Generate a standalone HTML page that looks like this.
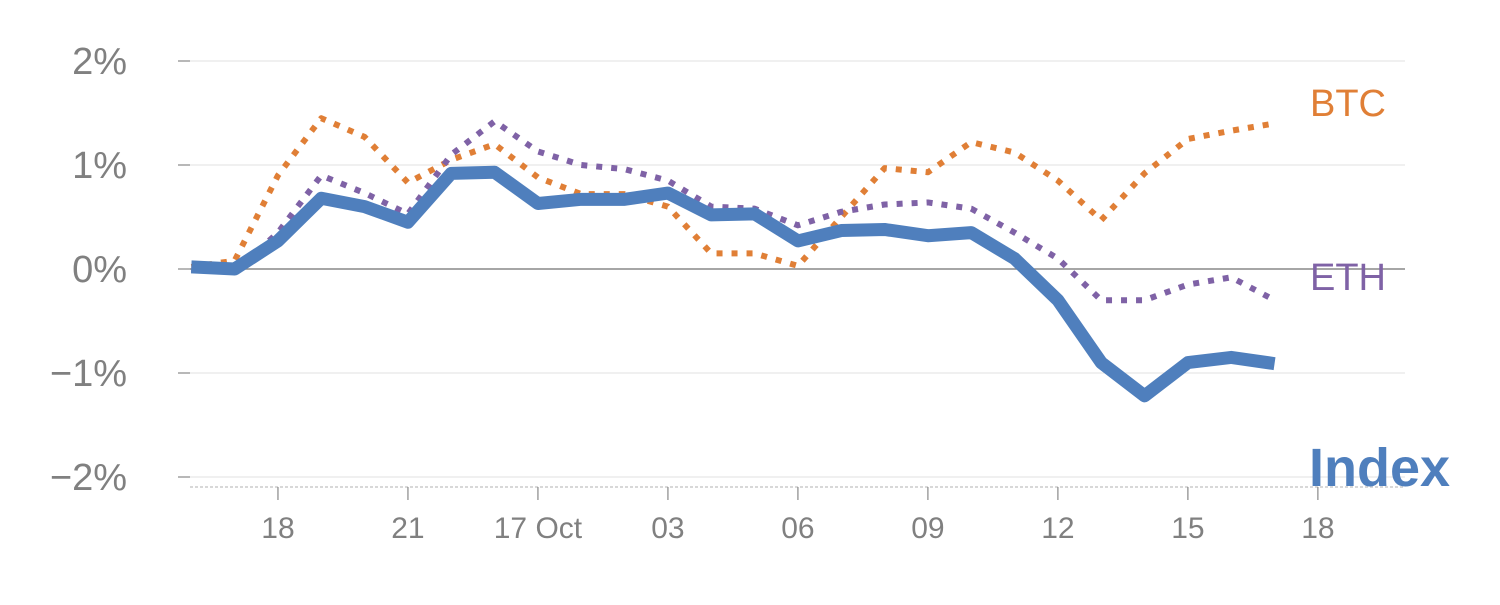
<!DOCTYPE html>
<html><head><meta charset="utf-8"><style>
body{margin:0;background:#fff}
svg text{font-family:"Liberation Sans",Arial,sans-serif}
</style></head><body>
<svg id="chart" width="1500" height="600" xmlns="http://www.w3.org/2000/svg"></svg>
<script>
const xLabels = ["18","21","17 Oct","03","06","09","12","15","18"];
const xLabelIdx = [2,5,8,11,14,17,20,23,26];
const yTicks = [2,1,0,-1,-2];
const indexVals = [0.02,0.0,0.27,0.68,0.6,0.45,0.92,0.93,0.63,0.67,0.67,0.73,0.52,0.53,0.27,0.37,0.38,0.32,0.35,0.1,-0.3,-0.9,-1.22,-0.9,-0.85,-0.91];
const btcVals = [0.02,0.08,0.9,1.45,1.27,0.83,1.05,1.2,0.88,0.72,0.72,0.6,0.15,0.15,0.03,0.5,0.97,0.93,1.22,1.12,0.85,0.47,0.92,1.25,1.33,1.4];
const ethVals = [0.0,-0.03,0.35,0.9,0.73,0.53,1.1,1.42,1.13,1.0,0.96,0.85,0.6,0.58,0.42,0.55,0.62,0.64,0.58,0.35,0.1,-0.3,-0.3,-0.15,-0.08,-0.3];

const svg = document.getElementById('chart');
const NS = 'http://www.w3.org/2000/svg';
const xs = i => 191.3 + 43.33 * i;
const ys = v => 269 - 104 * v;
function mk(tag, attrs, parent) {
  const e = document.createElementNS(NS, tag);
  for (const k in attrs) e.setAttribute(k, attrs[k]);
  (parent || svg).appendChild(e);
  return e;
}
yTicks.forEach(t => {
  const g = mk('line', {x1:190, x2:1405, y1:ys(t), y2:ys(t), stroke: t===0?'#888':'#e2e2e2', 'stroke-width': t===0?1.5:1});
  
  
  const tk = mk('line', {x1:178, x2:190, y1:ys(t), y2:ys(t), stroke:'#888', 'stroke-width':1.2});
  
  
  const lb = mk('text', {x:127, y:ys(t)+13, 'text-anchor':'end', 'font-size':38, fill:'#808080'});
  lb.textContent = (t<0?'\u2212':'') + Math.abs(t) + '%';
  
  
});
const ax = mk('line', {x1:190, x2:1405, y1:487, y2:487, stroke:'#ccc', 'stroke-width':1.5, 'stroke-dasharray':'3,2'});


xLabels.forEach((l, k) => {
  const x = xs(xLabelIdx[k]);
  const tk = mk('line', {x1:x, x2:x, y1:487, y2:500, stroke:'#888', 'stroke-width':1.2});
  
  
  const t = mk('text', {x:x, y:538, 'text-anchor':'middle', 'font-size':30, fill:'#808080'});
  t.textContent = l;
  
  
});
function series(vals, color, width, dash, name) {
  const p = mk('polyline', {points: vals.map((v,i)=>xs(i)+','+ys(v)).join(' '), fill:'none', stroke:color, 'stroke-width':width, 'stroke-linejoin':'round'});
  if (dash) p.setAttribute('stroke-dasharray', dash);
  
  
}
series(btcVals, '#e07f36', 6, '6,9', 'btc-line');
series(ethVals, '#7f62a6', 6, '6,9', 'eth-line');
series(indexVals, '#4f7fbd', 13, null, 'index-line');
function lab(txt, x, y, size, color, weight, name) {
  const t = mk('text', {x:x, y:y, 'font-size':size, fill:color, 'font-weight':weight});
  t.textContent = txt;
  
  
}
lab('BTC', 1310, 116, 38, '#e07f36', 'normal', 'btc-label');
lab('ETH', 1310, 290, 38, '#7f62a6', 'normal', 'eth-label');
lab('Index', 1309, 486, 54, '#4f7fbd', 'bold', 'index-label');
</script>
</body></html>
